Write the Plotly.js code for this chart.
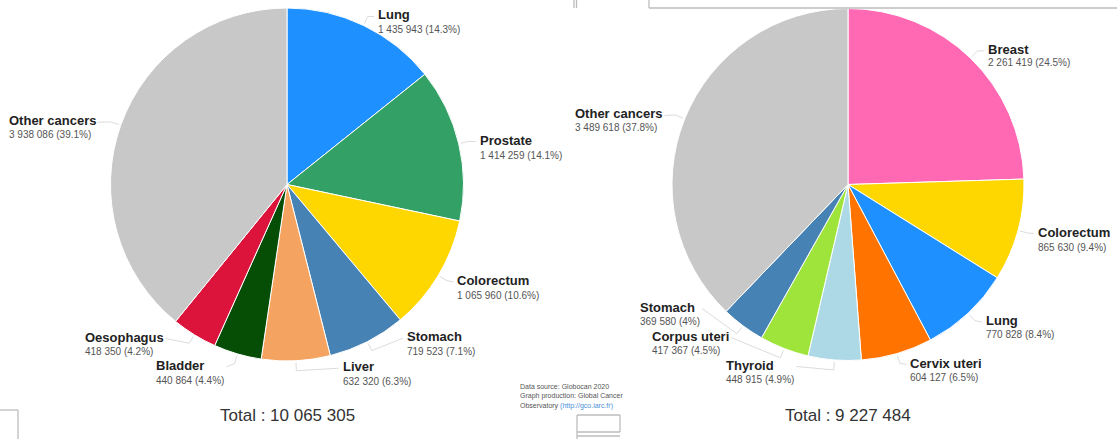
<!DOCTYPE html>
<html>
<head>
<meta charset="utf-8">
<script src="https://cdn.plot.ly/plotly-3.0.1.min.js"></script>
<style>
html,body{margin:0;padding:0;background:#fff;}
#chart{width:1117px;height:439px;}
</style>
</head>
<body>
<div id="chart"></div>
<script>
// ---------- DATA ----------
const maleLabels = ['Lung', 'Prostate', 'Colorectum', 'Stomach', 'Liver', 'Bladder', 'Oesophagus', 'Other cancers'];
const maleValues = [1435943, 1414259, 1065960, 719523, 632320, 440864, 418350, 3938086];

const femaleLabels = ['Breast', 'Colorectum', 'Lung', 'Cervix uteri', 'Thyroid', 'Corpus uteri', 'Stomach', 'Other cancers'];
const femaleValues = [2261419, 865630, 770828, 604127, 448915, 417367, 369580, 3489618];

const totalPrefix = 'Total : ';
const sourceLines = ['Data source: Globocan 2020', 'Graph production: Global Cancer', 'Observatory '];
const sourceLink = '(http://gco.iarc.fr)';

// ---------- STYLES ----------
const maleColors = ['#1e90ff', '#33a166', '#ffd700', '#4682b4', '#f4a460', '#064d06', '#dc143c', '#c8c8c8'];
const femaleColors = ['#ff69b4', '#ffd700', '#1e90ff', '#ff7400', '#add8e6', '#9ee43a', '#4682b4', '#c8c8c8'];

const FONT = 'Liberation Sans, Arial, sans-serif';
const W = 1117, H = 439;

// label layout: [left x, name centre y, value centre y] in pixels
const malePos = [[377, 15, 29.5], [478.6, 140, 155], [456.4, 280.5, 295.5], [406, 336.7, 351.7],
                 [341.5, 366.7, 381], [155, 365.5, 380], [84, 337, 351.7], [7.5, 120.7, 134.5]];
const femalePos = [[987, 49.3, 63], [1037, 232, 247.5], [985, 320.7, 334.5], [909.3, 363, 377.7],
                   [725, 365, 379.5], [650.7, 336, 350], [639, 307, 321.7], [574, 114, 128]];

const pies = [
  {cx: 287, cy: 184.5, r: 176.5, labels: maleLabels, values: maleValues, colors: maleColors, pos: malePos},
  {cx: 848, cy: 184.5, r: 176, labels: femaleLabels, values: femaleValues, colors: femaleColors, pos: femalePos}
];

function fmtNum(v) { return String(v).replace(/\B(?=(\d{3})+(?!\d))/g, ' '); }
function fmtPct(f) { return (Math.round(f * 1000) / 10) + '%'; }

const canvas = document.createElement('canvas');
const ctx = canvas.getContext('2d');
function textW(str, font) { ctx.font = font; return ctx.measureText(str).width; }

const px = x => x / W;
const py = y => 1 - y / H;

const data = [];
const annotations = [];
const shapes = [];

pies.forEach(p => {
  data.push({
    type: 'pie',
    labels: p.labels,
    values: p.values,
    sort: false,
    direction: 'clockwise',
    rotation: 0,
    textinfo: 'none',
    hoverinfo: 'skip',
    showlegend: false,
    marker: {colors: p.colors, line: {color: '#ffffff', width: 1}},
    domain: {x: [px(p.cx - p.r), px(p.cx + p.r)], y: [py(p.cy + p.r), py(p.cy - p.r)]}
  });
  const total = p.values.reduce((a, b) => a + b, 0);
  let cum = 0;
  p.values.forEach((v, i) => {
    const [lx, ny, vy] = p.pos[i];
    const name = p.labels[i];
    const valTxt = fmtNum(v) + ' (' + fmtPct(v / total) + ')';
    annotations.push({x: px(lx), y: py(ny), xref: 'paper', yref: 'paper', xanchor: 'left', yanchor: 'middle',
      showarrow: false, text: '<b>' + name + '</b>', font: {family: FONT, size: 13, color: '#222'}, borderpad: 0});
    annotations.push({x: px(lx), y: py(vy), xref: 'paper', yref: 'paper', xanchor: 'left', yanchor: 'middle',
      showarrow: false, text: valTxt, font: {family: FONT, size: 10, color: '#555'}, borderpad: 0});
    // leader line from slice mid-angle to label
    const mid = 2 * Math.PI * (cum + v / 2) / total;
    cum += v;
    const s = Math.sin(mid), c = Math.cos(mid);
    const x1 = p.cx + (p.r + 2) * s, y1 = p.cy - (p.r + 2) * c;
    const x2 = p.cx + (p.r + 10) * s, y2 = p.cy - (p.r + 10) * c;
    let ex;
    if (s >= 0) {
      ex = lx - 3;
    } else {
      const w = Math.max(textW(name, 'bold 13px "Liberation Sans"'), textW(valTxt, '10px "Liberation Sans"'));
      ex = lx + w + 3;
    }
    const ey = ny + 1.5;
    shapes.push({type: 'path', xref: 'paper', yref: 'paper',
      path: 'M' + px(x1) + ',' + py(y1) + ' L' + px(x2) + ',' + py(y2) + ' L' + px(ex) + ',' + py(ey),
      line: {color: '#dcdcdc', width: 1}});
  });
  annotations.push({x: px(p.cx), y: py(415), xref: 'paper', yref: 'paper', xanchor: 'center', yanchor: 'middle',
    showarrow: false, text: totalPrefix + fmtNum(total), font: {family: FONT, size: 17, color: '#333'}});
});

// source note
const srcY = [386, 396, 406];
sourceLines.forEach((t, i) => {
  const txt = i === 2 ? t + '<span style="color:#4a8fd6">' + sourceLink + '</span>' : t;
  annotations.push({x: px(519), y: py(srcY[i]), xref: 'paper', yref: 'paper', xanchor: 'left', yanchor: 'middle',
    showarrow: false, text: txt, font: {family: FONT, size: 7, color: '#555'}, borderpad: 0});
});

// screenshot frame fragments
const frameLine = {color: '#bdbdbd', width: 1.3};
const seg = (x0, y0, x1, y1) => ({type: 'line', xref: 'paper', yref: 'paper',
  x0: px(x0), y0: py(y0), x1: px(x1), y1: py(y1), line: frameLine});
shapes.push(seg(649, 0, 649, 8), seg(649, 8, 1117, 8), seg(574, 0, 574, 8), seg(576.5, 0, 576.5, 8),
  seg(0, 410, 18, 410), seg(18, 410, 18, 439),
  seg(577, 415, 620, 415), seg(620, 415, 620, 432), seg(577, 432, 620, 432), seg(577, 415, 577, 439),
  seg(577, 436, 620, 436));

const layout = {
  width: W, height: H,
  margin: {l: 0, r: 0, t: 0, b: 0},
  paper_bgcolor: '#ffffff',
  plot_bgcolor: '#ffffff',
  showlegend: false,
  separators: '. ',
  font: {family: FONT},
  annotations: annotations,
  shapes: shapes
};

Plotly.newPlot('chart', data, layout, {displayModeBar: false, staticPlot: true});
</script>
</body>
</html>
